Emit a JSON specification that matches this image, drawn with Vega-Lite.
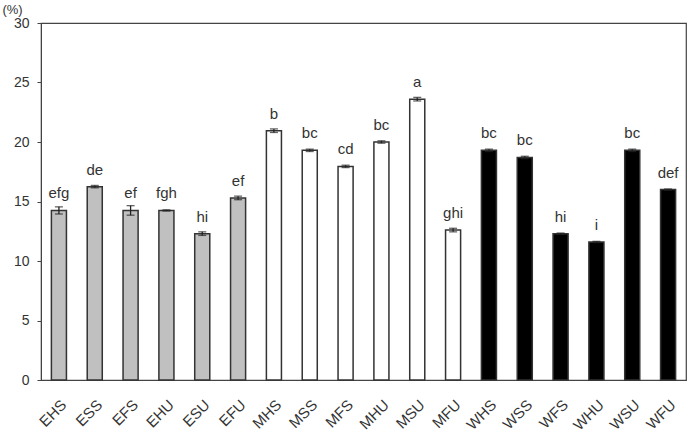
{
  "$schema": "https://vega.github.io/schema/vega-lite/v6.json",
  "width": 645,
  "height": 357,
  "autosize": {"type": "none"},
  "padding": {"left": 41, "top": 23, "right": 4, "bottom": 55},
  "background": "white",
  "config": {
    "view": {"stroke": "#444", "strokeWidth": 1.2},
    "font": "Liberation Sans",
    "axis": {"labelFont": "Liberation Sans", "titleFont": "Liberation Sans", "labelColor": "#333", "titleColor": "#333", "domainColor": "#444", "tickColor": "#444", "grid": false}
  },
  "data": {
    "values": [
      {"name": "EHS", "group": "E", "value": 14.25, "err": 0.3, "sig": "efg"},
      {"name": "ESS", "group": "E", "value": 16.25, "err": 0.1, "sig": "de"},
      {"name": "EFS", "group": "E", "value": 14.25, "err": 0.4, "sig": "ef"},
      {"name": "EHU", "group": "E", "value": 14.25, "err": 0.05, "sig": "fgh"},
      {"name": "ESU", "group": "E", "value": 12.3, "err": 0.15, "sig": "hi"},
      {"name": "EFU", "group": "E", "value": 15.3, "err": 0.15, "sig": "ef"},
      {"name": "MHS", "group": "M", "value": 20.95, "err": 0.15, "sig": "b"},
      {"name": "MSS", "group": "M", "value": 19.3, "err": 0.1, "sig": "bc"},
      {"name": "MFS", "group": "M", "value": 17.95, "err": 0.1, "sig": "cd"},
      {"name": "MHU", "group": "M", "value": 20.0, "err": 0.1, "sig": "bc"},
      {"name": "MSU", "group": "M", "value": 23.6, "err": 0.15, "sig": "a"},
      {"name": "MFU", "group": "M", "value": 12.6, "err": 0.15, "sig": "ghi"},
      {"name": "WHS", "group": "W", "value": 19.3, "err": 0.1, "sig": "bc"},
      {"name": "WSS", "group": "W", "value": 18.7, "err": 0.1, "sig": "bc"},
      {"name": "WFS", "group": "W", "value": 12.3, "err": 0.05, "sig": "hi"},
      {"name": "WHU", "group": "W", "value": 11.6, "err": 0.05, "sig": "i"},
      {"name": "WSU", "group": "W", "value": 19.3, "err": 0.1, "sig": "bc"},
      {"name": "WFU", "group": "W", "value": 16.0, "err": 0.05, "sig": "def"}
    ]
  },
  "encoding": {
    "x": {
      "field": "name", "type": "nominal", "sort": null,
      "scale": {"paddingInner": 0.58, "paddingOuter": 0.29},
      "axis": {"title": null, "labelAngle": -45, "labelAlign": "right", "labelBaseline": "top", "labelFontSize": 15, "ticks": false, "labelPadding": 17, "domain": true}
    }
  },
  "layer": [
    {
      "mark": {"type": "bar", "stroke": "#333", "strokeWidth": 1.5},
      "encoding": {
        "y": {
          "field": "value", "type": "quantitative",
          "scale": {"domain": [0, 30], "nice": false},
          "axis": {"values": [0, 5, 10, 15, 20, 25, 30], "labelFontSize": 14, "tickSize": 4, "labelPadding": 8, "title": "(%)", "titleAngle": 0, "titleX": -29, "titleY": -10, "titleAlign": "center", "titleBaseline": "alphabetic", "titleFontSize": 13, "titleFontWeight": "normal"}
        },
        "fill": {
          "field": "group", "type": "nominal",
          "scale": {"domain": ["E", "M", "W"], "range": ["#c0c0c0", "#ffffff", "#000000"]},
          "legend": null
        }
      }
    },
    {
      "mark": {"type": "errorbar", "ticks": {"size": 8, "color": "#222"}, "rule": {"color": "#222"}, "thickness": 1.3},
      "encoding": {
        "y": {"field": "value", "type": "quantitative", "title": "(%)"},
        "yError": {"field": "err"}
      }
    },
    {
      "mark": {"type": "text", "dy": -12, "baseline": "alphabetic", "fontSize": 15, "color": "#333"},
      "encoding": {
        "y": {"field": "value", "type": "quantitative", "title": "(%)"},
        "text": {"field": "sig"}
      }
    }
  ]
}
